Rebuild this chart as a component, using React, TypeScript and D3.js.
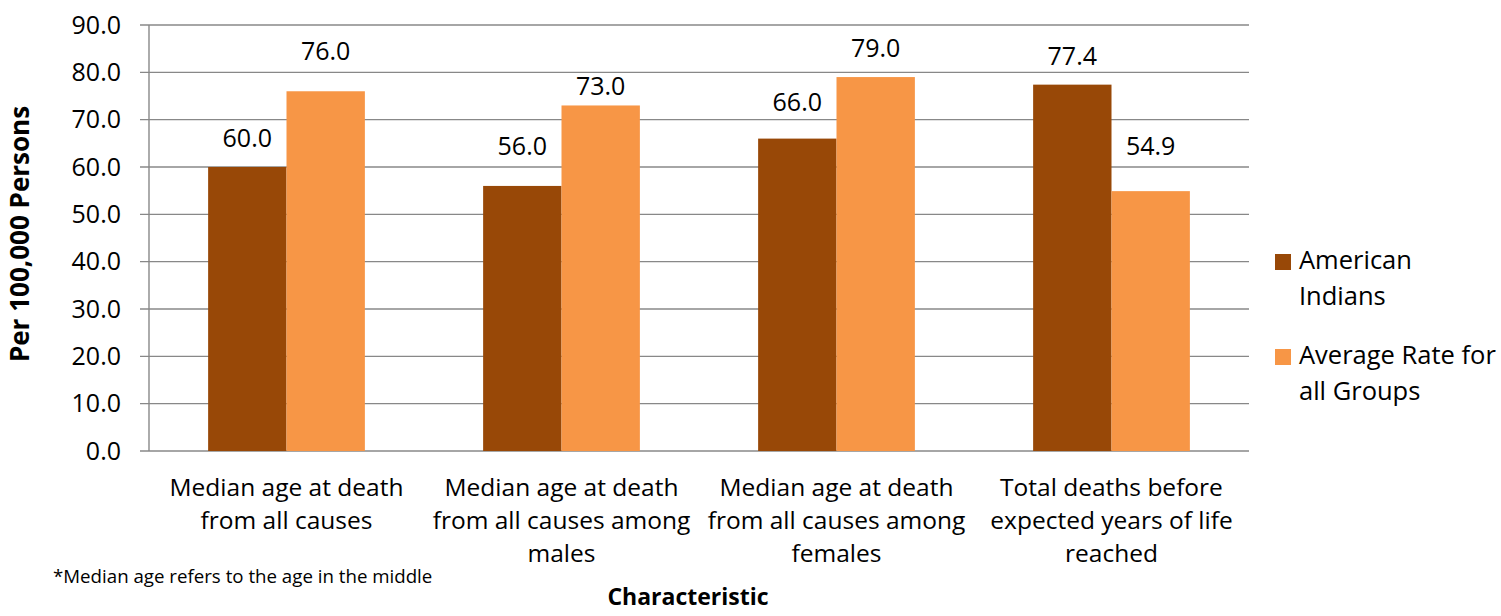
import React from 'react';
import * as d3 from 'd3';

// chart data
const categories = [
    ['Median age at death', 'from all causes'],
    ['Median age at death', 'from all causes among', 'males'],
    ['Median age at death', 'from all causes among', 'females'],
    ['Total deaths before', 'expected years of life', 'reached'],
];
const seriesNames = ['American Indians', 'Average Rate for all Groups'];
const legendLines = [['American', 'Indians'], ['Average Rate for', 'all Groups']];
const americanIndians = [60.0, 56.0, 66.0, 77.4];
const averageAllGroups = [76.0, 73.0, 79.0, 54.9];
const yTicks = [0, 10, 20, 30, 40, 50, 60, 70, 80, 90];

const COLORS = ['#984807', '#F79646'];
const GRID = '#888888';
const FONT = '"Open Sans", "Noto Sans", sans-serif';

// the labels in the original were nudged by hand, so the gap above each bar differs
const LABEL_GAP = [
    [20, 31, 28, 20],
    [31, 10, 20, 36],
];

const WIDTH = 1501;
const HEIGHT = 616;
const plot = {left: 149, right: 1249, top: 25, bottom: 451};

const App: React.FC = () => {
    const series = [americanIndians, averageAllGroups];

    const x0 = d3
        .scaleBand<number>()
        .domain(d3.range(categories.length))
        .range([plot.left, plot.right])
        .paddingInner(0.43)
        .paddingOuter(0.215);
    const x1 = d3
        .scaleBand<number>()
        .domain(d3.range(series.length))
        .range([0, x0.bandwidth()]);
    const y = d3.scaleLinear().domain([0, 90]).range([plot.bottom, plot.top]);

    return (
        <svg
            width={WIDTH}
            height={HEIGHT}
            style={{position: 'absolute', left: 0, top: 0, background: '#fff'}}
            fontFamily={FONT}
        >
            {/* gridlines + y ticks */}
            {yTicks.map((t) => (
                <g key={t}>
                    <line x1={plot.left - 9} x2={plot.right} y1={y(t)} y2={y(t)} stroke={GRID} strokeWidth={1.4} />
                    <text x={121} y={y(t) + 8.5} textAnchor="end" fontSize={25} fill="#000">
                        {t.toFixed(1)}
                    </text>
                </g>
            ))}
            <line x1={plot.left} x2={plot.left} y1={plot.top} y2={plot.bottom} stroke={GRID} strokeWidth={1.4} />

            {/* bars */}
            {series.map((vals, si) =>
                vals.map((v, ci) => {
                    const bx = (x0(ci) ?? 0) + (x1(si) ?? 0);
                    return (
                        <g key={`${si}-${ci}`}>
                            <rect
                                x={bx}
                                y={y(v)}
                                width={x1.bandwidth()}
                                height={plot.bottom - y(v)}
                                fill={COLORS[si]}
                            />
                            <text
                                x={bx + x1.bandwidth() / 2}
                                y={y(v) - LABEL_GAP[si][ci]}
                                textAnchor="middle"
                                fontSize={25}
                                fill="#000"
                            >
                                {v.toFixed(1)}
                            </text>
                        </g>
                    );
                })
            )}

            {/* category labels */}
            {categories.map((lines, ci) => {
                const cx = (x0(ci) ?? 0) + x0.bandwidth() / 2;
                return (
                    <text key={ci} x={cx} y={496} textAnchor="middle" fontSize={24.5} fill="#000">
                        {lines.map((l, li) => (
                            <tspan key={li} x={cx} dy={li === 0 ? 0 : 33}>
                                {l}
                            </tspan>
                        ))}
                    </text>
                );
            })}

            {/* axis titles */}
            <text
                transform={`translate(29, ${(plot.top + plot.bottom) / 2 - 4}) rotate(-90)`}
                textAnchor="middle"
                fontSize={26}
                fontWeight="bold"
                fill="#000"
            >
                Per 100,000 Persons
            </text>
            <text x={688} y={605} textAnchor="middle" fontSize={23} fontWeight="bold" fill="#000">
                Characteristic
            </text>

            {/* footnote */}
            <text x={53} y={583} fontSize={18.7} fill="#000">
                *Median age refers to the age in the middle
            </text>

            {/* legend */}
            {seriesNames.map((name, i) => {
                const top = 254 + i * 95;
                return (
                    <g key={name}>
                        <rect x={1275} y={top} width={16} height={16} fill={COLORS[i]} />
                        <text x={1299} y={top + 15} fontSize={25.5} fill="#000">
                            {legendLines[i].map((w, wi) => (
                                <tspan key={wi} x={1299} dy={wi === 0 ? 0 : 35.5}>
                                    {w}
                                </tspan>
                            ))}
                        </text>
                    </g>
                );
            })}
        </svg>
    );
};

export default App;
